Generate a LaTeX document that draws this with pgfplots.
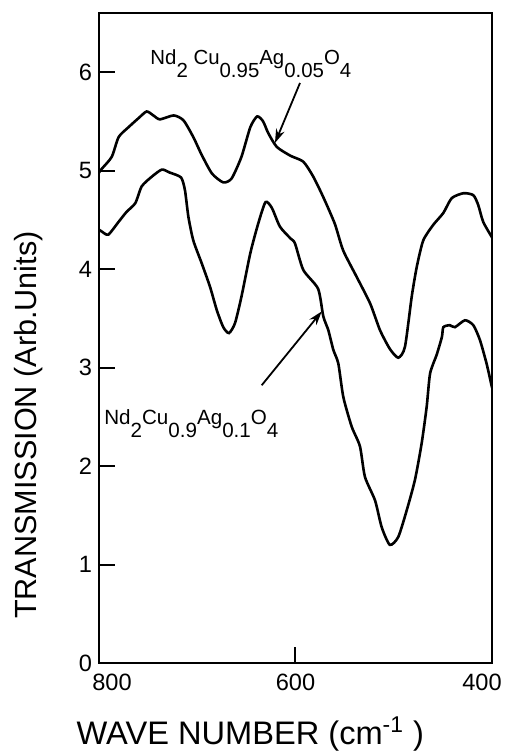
\documentclass[border=0pt]{standalone}
\usepackage{fontspec}
\setmainfont{Liberation Sans}
\usepackage{pgfplots}
\pgfplotsset{compat=1.18}
\usetikzlibrary{arrows.meta}
% subscripts in the figure are full size and dropped
\newcommand{\sub}[1]{\raisebox{-6.5pt}{#1}}

\begin{document}
\begin{tikzpicture}
\begin{axis}[
    scale only axis,
    width=196.5pt, height=325pt,
    xmin=400, xmax=800, ymin=0, ymax=6.6,
    x dir=reverse,
    axis line style={line width=1pt},
    xtick={400,600,800},
    xticklabels={400\hspace*{10pt},600,\hspace*{13pt}800},
    ytick={0,1,2,3,4,5,6},
    tick align=inside,
    major tick length=8pt,
    tick style={line width=1pt, black},
    xtick pos=bottom, ytick pos=left,
    /pgf/number format/assume math mode=true,
    ticklabel style={font=\fontsize{11.8}{13}\selectfont},
    xticklabel style={yshift=-2pt},
    xlabel={WAVE NUMBER (cm\textsuperscript{-1} )},
    ylabel={TRANSMISSION (Arb.Units)},
    xlabel style={font=\fontsize{16.3}{18}\selectfont,
        at={(axis description cs:0.385,-0.126)}, anchor=base},
    ylabel style={font=\fontsize{15.3}{17}\selectfont,
        at={(axis description cs:-0.158,0.366)}, anchor=base},
]
% Nd2Cu0.95Ag0.05O4
\addplot[black, line width=1.3pt, smooth, tension=0.4] coordinates {
  (800,4.98) (797,5.02) (787,5.14) (780,5.34) (770,5.44) (760,5.53)
  (751.5,5.60) (744.7,5.56) (738,5.52) (724,5.56) (714,5.51) (704,5.34)
  (695.5,5.16) (685,4.97) (673.5,4.88) (665,4.92) (655,5.14) (646,5.44)
  (639,5.55) (633,5.50) (627.7,5.38) (619,5.24) (605,5.15) (592,5.09)
  (582,4.94) (571.7,4.73) (560,4.46) (551.5,4.19) (537.7,3.92) (524,3.65)
  (514,3.38) (504,3.19) (495.4,3.10) (488.6,3.21) (481.7,3.72) (476.6,4.02)
  (470,4.29) (459.7,4.45) (449.5,4.57) (441,4.72) (429,4.77) (419,4.75)
  (414,4.65) (409,4.48) (400.5,4.33) (400,4.32)
};
% Nd2Cu0.9Ag0.1O4
\addplot[black, line width=1.3pt, smooth, tension=0.4] coordinates {
  (800,4.40) (797,4.38) (790.5,4.35) (780,4.48) (772,4.58) (763,4.67)
  (756.5,4.84) (746,4.94) (736,5.01) (728,4.98) (716.5,4.93) (712.5,4.80)
  (709,4.53) (704,4.29) (695.5,4.06) (687,3.82) (680,3.58) (673.5,3.41)
  (667.7,3.35) (661.6,3.45) (655,3.72) (646,4.16) (638,4.46) (630.5,4.68)
  (624,4.62) (615.8,4.43) (605,4.31) (600.5,4.26) (592,3.99) (577,3.80)
  (571.7,3.52) (566.6,3.38) (561.5,3.18) (556.4,3.04) (551.3,2.70)
  (542.8,2.40) (534.4,2.20) (529.3,1.89) (519,1.65) (512.3,1.38) (504,1.20)
  (495.4,1.28) (486.8,1.55) (478.4,1.86) (471.6,2.23) (466.5,2.60)
  (463,2.94) (456.3,3.13) (451,3.31) (449.5,3.41) (443,3.43) (437.7,3.41)
  (427.5,3.48) (419,3.43) (412.3,3.28) (405.5,3.04) (400.5,2.82) (400,2.80)
};

\node[anchor=base west, inner sep=0pt, font=\fontsize{10.2}{12}\selectfont]
  at (axis cs:748,6.08) {Nd\sub{2} Cu\sub{0.95}Ag\sub{0.05}O\sub{4}};
\node[anchor=base west, inner sep=0pt, font=\fontsize{10.3}{12}\selectfont]
  at (axis cs:795,2.42) {Nd\sub{2}Cu\sub{0.9}Ag\sub{0.1}O\sub{4}};
\draw[line width=0.9pt, -{Stealth[length=7pt,width=4.5pt]}]
  (axis cs:595.4,5.89) -- (axis cs:620.9,5.28);
\draw[line width=0.9pt, -{Stealth[length=7pt,width=4.5pt]}]
  (axis cs:634.4,2.82) -- (axis cs:573.3,3.57);
\end{axis}
\pgfresetboundingbox
\path[use as bounding box] ([shift={(-49.5pt,-45.5pt)}]current axis.south west)
  rectangle ([shift={(6.5pt,6.5pt)}]current axis.north east);
\end{tikzpicture}
\end{document}
